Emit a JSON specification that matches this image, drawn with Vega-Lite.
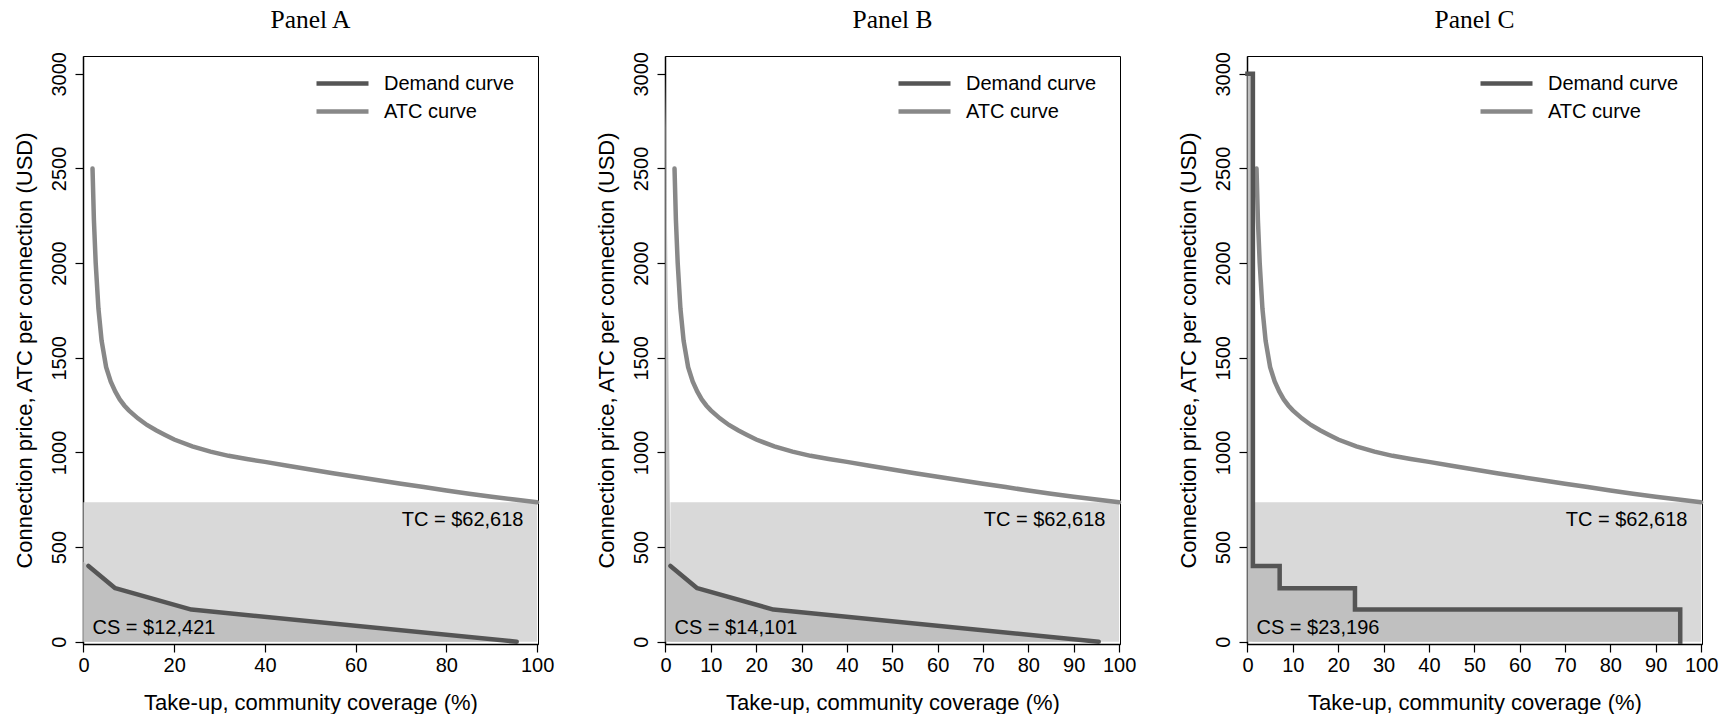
{
  "$schema": "https://vega.github.io/schema/vega-lite/v6.json",
  "background": "white",
  "padding": {"left": 12, "top": 7, "right": 0, "bottom": 0},
  "spacing": 39,
  "config": {
    "view": {"stroke": "#000", "strokeWidth": 1},
    "font": "Liberation Sans",
    "axis": {"labelFont": "Liberation Sans", "titleFont": "Liberation Sans", "labelFontSize": 20, "titleFontSize": 22, "titleFontWeight": "normal", "labelColor": "#000", "titleColor": "#000", "domainColor": "#000", "tickColor": "#000", "tickSize": 8, "domainWidth": 1.5, "tickWidth": 1.2, "grid": false, "labelFlush": false},
    "legend": {"orient": "none", "legendX": 249, "legendY": 17, "title": null, "symbolType": "M-3.25,0H3.25", "symbolSize": 256, "symbolStrokeWidth": 4.5, "labelOffset": 31, "labelFontSize": 20, "labelFont": "Liberation Sans", "labelColor": "#000", "rowPadding": 7, "padding": 0},
    "title": {"font": "Liberation Serif", "fontSize": 25.5, "fontWeight": "normal", "color": "#000", "anchor": "middle", "frame": "group", "offset": 18}
  },
  "datasets": {
    "atc": [
      {"x": 2, "y": 2500, "curve": "ATC curve"}, {"x": 2.3, "y": 2230, "curve": "ATC curve"}, {"x": 2.7, "y": 2000, "curve": "ATC curve"},
      {"x": 3.3, "y": 1760, "curve": "ATC curve"}, {"x": 4, "y": 1590, "curve": "ATC curve"}, {"x": 5, "y": 1450, "curve": "ATC curve"},
      {"x": 6, "y": 1375, "curve": "ATC curve"}, {"x": 7, "y": 1322, "curve": "ATC curve"}, {"x": 8, "y": 1280, "curve": "ATC curve"},
      {"x": 9, "y": 1248, "curve": "ATC curve"}, {"x": 10, "y": 1222, "curve": "ATC curve"}, {"x": 12, "y": 1180, "curve": "ATC curve"},
      {"x": 14, "y": 1145, "curve": "ATC curve"}, {"x": 16, "y": 1117, "curve": "ATC curve"}, {"x": 18, "y": 1092, "curve": "ATC curve"},
      {"x": 20, "y": 1068, "curve": "ATC curve"}, {"x": 24, "y": 1032, "curve": "ATC curve"}, {"x": 28, "y": 1004, "curve": "ATC curve"},
      {"x": 32, "y": 982, "curve": "ATC curve"}, {"x": 36, "y": 965, "curve": "ATC curve"}, {"x": 40, "y": 950, "curve": "ATC curve"},
      {"x": 45, "y": 930, "curve": "ATC curve"}, {"x": 50, "y": 910, "curve": "ATC curve"}, {"x": 55, "y": 890, "curve": "ATC curve"},
      {"x": 60, "y": 871, "curve": "ATC curve"}, {"x": 65, "y": 853, "curve": "ATC curve"}, {"x": 70, "y": 835, "curve": "ATC curve"},
      {"x": 75, "y": 817, "curve": "ATC curve"}, {"x": 80, "y": 799, "curve": "ATC curve"}, {"x": 85, "y": 782, "curve": "ATC curve"},
      {"x": 90, "y": 766, "curve": "ATC curve"}, {"x": 95, "y": 751, "curve": "ATC curve"}, {"x": 100, "y": 737, "curve": "ATC curve"}
    ],
    "demandAB": [
      {"x": 1.1, "y": 400, "curve": "Demand curve"}, {"x": 7.0, "y": 283, "curve": "Demand curve"},
      {"x": 23.8, "y": 170, "curve": "Demand curve"}, {"x": 95.5, "y": 0, "curve": "Demand curve"}
    ],
    "demandC": [
      {"x": 0, "y": 3000, "curve": "Demand curve"}, {"x": 1.2, "y": 400, "curve": "Demand curve"},
      {"x": 7.1, "y": 283, "curve": "Demand curve"}, {"x": 23.7, "y": 170, "curve": "Demand curve"},
      {"x": 95.4, "y": 0, "curve": "Demand curve"}
    ],
    "csA": [{"x": 0, "y": 422}, {"x": 1.1, "y": 400}, {"x": 7.0, "y": 283}, {"x": 23.8, "y": 170}, {"x": 95.5, "y": 0}],
    "csB": [{"x": 0, "y": 3000}, {"x": 1.1, "y": 400}, {"x": 7.0, "y": 283}, {"x": 23.8, "y": 170}, {"x": 95.5, "y": 0}],
    "csC": [{"x": 0, "y": 3000}, {"x": 1.2, "y": 400}, {"x": 7.1, "y": 283}, {"x": 23.7, "y": 170}, {"x": 95.4, "y": 0}],
    "tcA": [{"x": 0, "x2": 100, "y": 0, "y2": 737}],
    "tcBC": [{"x": 1.1, "x2": 100, "y": 0, "y2": 737}],
    "tcLab": [{"x": 97, "y": 641, "label": "TC = $62,618"}],
    "csLabA": [{"x": 2, "y": 70, "label": "CS = $12,421"}],
    "csLabB": [{"x": 2, "y": 70, "label": "CS = $14,101"}],
    "csLabC": [{"x": 2, "y": 70, "label": "CS = $23,196"}]
  },
  "hconcat": [
    {
      "width": 455, "height": 588,
      "title": {"text": "Panel A"},
      "encoding": {
        "x": {"field": "x", "type": "quantitative", "scale": {"domain": [-0.1, 100.2], "nice": false, "zero": false}, "axis": {"values": [0, 20, 40, 60, 80, 100], "title": "Take-up, community coverage (%)", "labelPadding": 3, "titlePadding": 17}},
        "y": {"field": "y", "type": "quantitative", "scale": {"domain": [-12, 3094], "nice": false, "zero": false}, "axis": {"values": [0, 500, 1000, 1500, 2000, 2500, 3000], "format": "d", "title": "Connection price, ATC per connection (USD)", "labelAngle": -90, "labelAlign": "center", "labelBaseline": "alphabetic", "labelPadding": 10, "titlePadding": 13}}
      },
      "layer": [
        {"data": {"name": "tcA"}, "mark": {"type": "rect", "color": "#d9d9d9"}, "encoding": {"x2": {"field": "x2"}, "y2": {"field": "y2"}}},
        {"data": {"name": "csA"}, "mark": {"type": "area", "color": "#c0c0c0"}, "encoding": {"y2": {"datum": 0}}},
        {"data": {"name": "tcLab"}, "mark": {"type": "text", "font": "Liberation Sans", "fontSize": 20, "color": "#000", "baseline": "middle", "align": "right"}, "encoding": {"text": {"field": "label"}}},
        {"data": {"name": "csLabA"}, "mark": {"type": "text", "font": "Liberation Sans", "fontSize": 20, "color": "#000", "baseline": "middle", "align": "left"}, "encoding": {"text": {"field": "label"}}},
        {"data": {"name": "atc"}, "mark": {"type": "line", "strokeWidth": 4.5, "strokeCap": "round"}, "encoding": {"color": {"field": "curve", "type": "nominal", "scale": {"domain": ["Demand curve", "ATC curve"], "range": ["#555555", "#888888"]}}}},
        {"data": {"name": "demandAB"}, "mark": {"type": "line", "strokeWidth": 4.5, "strokeCap": "round", "strokeJoin": "round"}, "encoding": {"color": {"field": "curve", "type": "nominal"}}}
      ]
    },
    {
      "width": 455, "height": 588,
      "title": {"text": "Panel B"},
      "encoding": {
        "x": {"field": "x", "type": "quantitative", "scale": {"domain": [-0.1, 100.2], "nice": false, "zero": false}, "axis": {"values": [0, 10, 20, 30, 40, 50, 60, 70, 80, 90, 100], "title": "Take-up, community coverage (%)", "labelPadding": 3, "titlePadding": 17}},
        "y": {"field": "y", "type": "quantitative", "scale": {"domain": [-12, 3094], "nice": false, "zero": false}, "axis": {"values": [0, 500, 1000, 1500, 2000, 2500, 3000], "format": "d", "title": "Connection price, ATC per connection (USD)", "labelAngle": -90, "labelAlign": "center", "labelBaseline": "alphabetic", "labelPadding": 10, "titlePadding": 13}}
      },
      "layer": [
        {"data": {"name": "tcBC"}, "mark": {"type": "rect", "color": "#d9d9d9"}, "encoding": {"x2": {"field": "x2"}, "y2": {"field": "y2"}}},
        {"data": {"name": "csB"}, "mark": {"type": "area", "color": "#c0c0c0"}, "encoding": {"y2": {"datum": 0}}},
        {"data": {"name": "tcLab"}, "mark": {"type": "text", "font": "Liberation Sans", "fontSize": 20, "color": "#000", "baseline": "middle", "align": "right"}, "encoding": {"text": {"field": "label"}}},
        {"data": {"name": "csLabB"}, "mark": {"type": "text", "font": "Liberation Sans", "fontSize": 20, "color": "#000", "baseline": "middle", "align": "left"}, "encoding": {"text": {"field": "label"}}},
        {"data": {"name": "atc"}, "mark": {"type": "line", "strokeWidth": 4.5, "strokeCap": "round"}, "encoding": {"color": {"field": "curve", "type": "nominal", "scale": {"domain": ["Demand curve", "ATC curve"], "range": ["#555555", "#888888"]}}}},
        {"data": {"name": "demandAB"}, "mark": {"type": "line", "strokeWidth": 4.5, "strokeCap": "round", "strokeJoin": "round"}, "encoding": {"color": {"field": "curve", "type": "nominal"}}}
      ]
    },
    {
      "width": 455, "height": 588,
      "title": {"text": "Panel C"},
      "encoding": {
        "x": {"field": "x", "type": "quantitative", "scale": {"domain": [-0.1, 100.2], "nice": false, "zero": false}, "axis": {"values": [0, 10, 20, 30, 40, 50, 60, 70, 80, 90, 100], "title": "Take-up, community coverage (%)", "labelPadding": 3, "titlePadding": 17}},
        "y": {"field": "y", "type": "quantitative", "scale": {"domain": [-12, 3094], "nice": false, "zero": false}, "axis": {"values": [0, 500, 1000, 1500, 2000, 2500, 3000], "format": "d", "title": "Connection price, ATC per connection (USD)", "labelAngle": -90, "labelAlign": "center", "labelBaseline": "alphabetic", "labelPadding": 10, "titlePadding": 13}}
      },
      "layer": [
        {"data": {"name": "tcBC"}, "mark": {"type": "rect", "color": "#d9d9d9"}, "encoding": {"x2": {"field": "x2"}, "y2": {"field": "y2"}}},
        {"data": {"name": "csC"}, "mark": {"type": "area", "color": "#c0c0c0", "interpolate": "step-after"}, "encoding": {"y2": {"datum": 0}}},
        {"data": {"name": "tcLab"}, "mark": {"type": "text", "font": "Liberation Sans", "fontSize": 20, "color": "#000", "baseline": "middle", "align": "right"}, "encoding": {"text": {"field": "label"}}},
        {"data": {"name": "csLabC"}, "mark": {"type": "text", "font": "Liberation Sans", "fontSize": 20, "color": "#000", "baseline": "middle", "align": "left"}, "encoding": {"text": {"field": "label"}}},
        {"data": {"name": "atc"}, "mark": {"type": "line", "strokeWidth": 4.5, "strokeCap": "round"}, "encoding": {"color": {"field": "curve", "type": "nominal", "scale": {"domain": ["Demand curve", "ATC curve"], "range": ["#555555", "#888888"]}}}},
        {"data": {"name": "demandC"}, "mark": {"type": "line", "strokeWidth": 4.5, "strokeCap": "square", "strokeJoin": "miter", "interpolate": "step-after"}, "encoding": {"color": {"field": "curve", "type": "nominal"}}}
      ]
    }
  ],
  "resolve": {"scale": {"color": "independent"}, "legend": {"color": "independent"}}
}
